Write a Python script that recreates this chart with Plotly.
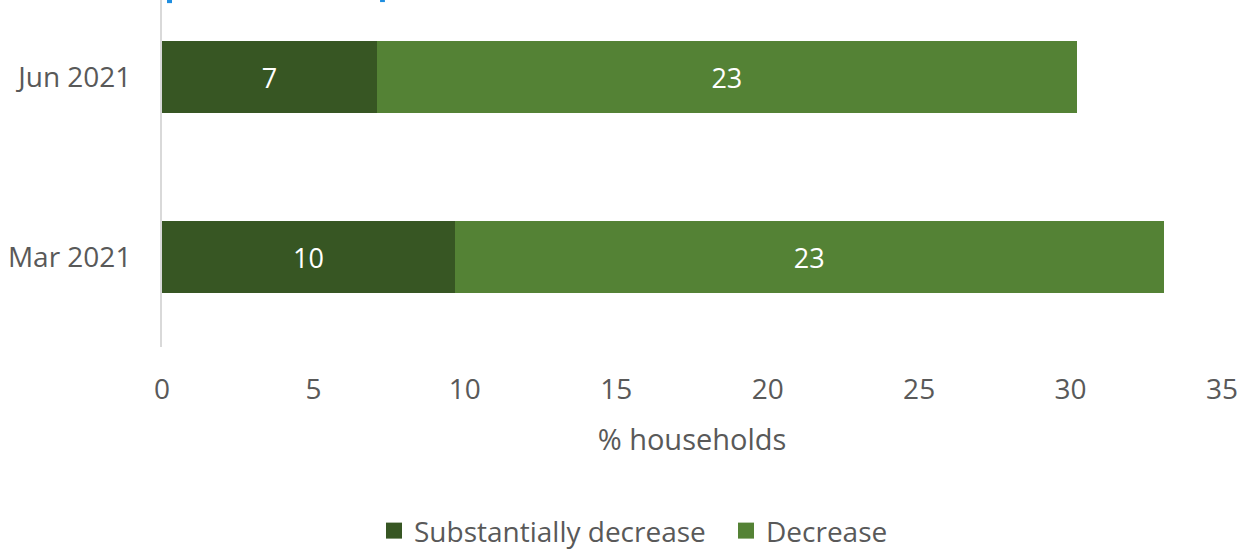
import plotly.graph_objects as go

# Share of households, by survey month
periods = ["Mar 2021", "Jun 2021"]
substantially_decrease = [9.67, 7.09]
decrease = [23.40, 23.12]

series_names = ["Substantially decrease", "Decrease"]
series_colors = ["#375623", "#548235"]

x_ticks = [0, 5, 10, 15, 20, 25, 30, 35]

FONT = "Open Sans"
GREY = "#595959"

fig = go.Figure()
for name, vals, col in zip(series_names, [substantially_decrease, decrease], series_colors):
    fig.add_trace(go.Bar(
        name=name,
        y=periods,
        x=vals,
        orientation="h",
        marker=dict(color=col, line=dict(width=0)),
        width=0.4,
        texttemplate="%{x:.0f}",
        textposition="inside",
        insidetextanchor="middle",
        textfont=dict(family=FONT, size=27, color="white"),
        showlegend=False,
        legendgroup=name,
    ))

# Legend entries with larger square swatches
for name, col in zip(series_names, series_colors):
    fig.add_trace(go.Scatter(
        name=name,
        x=[None],
        y=[None],
        mode="markers",
        marker=dict(symbol="square", size=16, color=col),
        legendgroup=name,
        showlegend=True,
    ))

fig.update_layout(
    width=1257,
    height=549,
    barmode="stack",
    margin=dict(l=162, r=35, t=0, b=202, autoexpand=False),
    paper_bgcolor="white",
    plot_bgcolor="white",
    font=dict(family=FONT, color=GREY, size=28),
    showlegend=True,
    legend=dict(
        orientation="h",
        x=0.2,
        xanchor="left",
        y=-0.53,
        yanchor="middle",
        font=dict(family=FONT, size=28, color=GREY),
        traceorder="normal",
        itemwidth=30,
        entrywidth=307,
        entrywidthmode="pixels",
    ),
    xaxis=dict(
        range=[0, 35],
        tickvals=x_ticks,
        ticktext=[str(t) for t in x_ticks],
        showgrid=False,
        zeroline=False,
        showline=False,
        ticks="",
        ticklabelstandoff=23,
        tickfont=dict(family=FONT, size=28, color=GREY),
        title=dict(text="% households", font=dict(family=FONT, size=29, color=GREY), standoff=23),
        automargin=False,
        fixedrange=True,
    ),
    yaxis=dict(
        categoryorder="array",
        categoryarray=periods,
        range=[-0.5, 1.428],
        showgrid=False,
        zeroline=False,
        showline=True,
        linecolor="#d9d9d9",
        linewidth=2,
        ticks="",
        ticklabelstandoff=23,
        tickfont=dict(family=FONT, size=28, color=GREY),
        automargin=False,
        fixedrange=True,
    ),
)

# Small blue selection marks left along the top edge
for x0, x1, y0 in [(0.165, 0.33, 0.991), (7.2, 7.36, 0.994)]:
    fig.add_shape(type="rect", xref="x", yref="paper", x0=x0, x1=x1, y0=y0, y1=1.0,
                  fillcolor="#1f8ee0", line=dict(width=0), layer="above")

fig.write_html("out.html")
